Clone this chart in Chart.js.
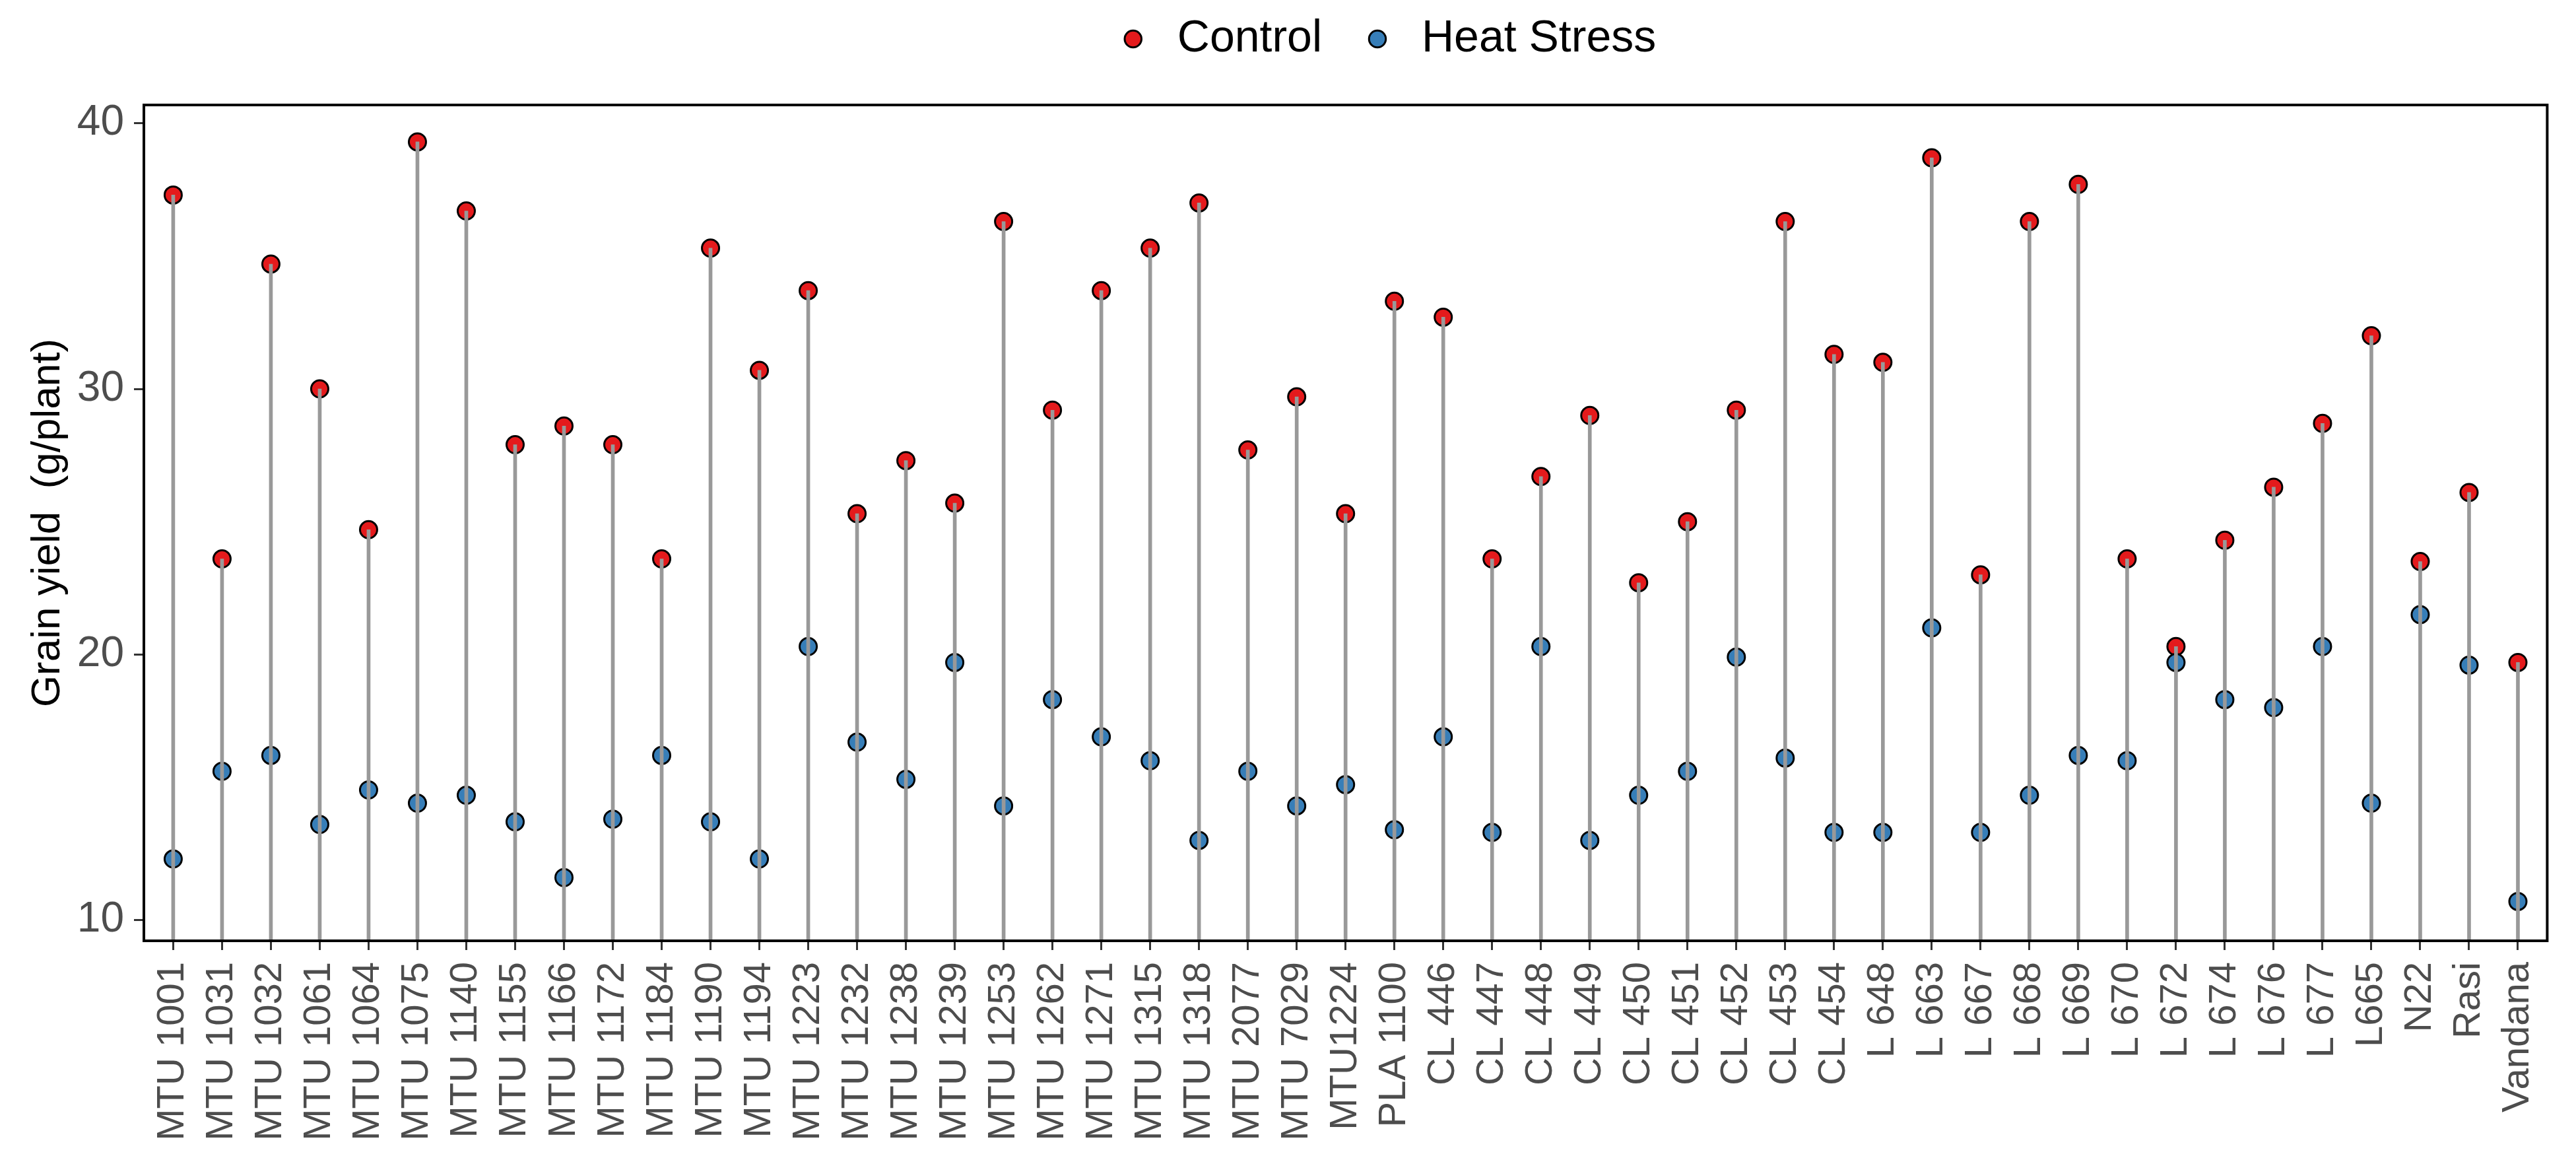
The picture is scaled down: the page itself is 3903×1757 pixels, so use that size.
<!DOCTYPE html>
<html>
<head>
<meta charset="utf-8">
<title>Grain yield</title>
<script src="https://cdn.jsdelivr.net/npm/chart.js@4.4.1/dist/chart.umd.min.js"></script>
<style>
    html, body { margin: 0; padding: 0; background: #ffffff; }
    #wrap { width: 3903px; height: 1757px; }
</style>
</head>
<body>
<div id="wrap"><canvas id="yieldChart" width="3903" height="1757"></canvas></div>
<script>
const genotypes = [
    "MTU 1001", "MTU 1031", "MTU 1032", "MTU 1061", "MTU 1064", "MTU 1075", "MTU 1140",
    "MTU 1155", "MTU 1166", "MTU 1172", "MTU 1184", "MTU 1190", "MTU 1194", "MTU 1223",
    "MTU 1232", "MTU 1238", "MTU 1239", "MTU 1253", "MTU 1262", "MTU 1271", "MTU 1315",
    "MTU 1318", "MTU 2077", "MTU 7029", "MTU1224", "PLA 1100", "CL 446", "CL 447",
    "CL 448", "CL 449", "CL 450", "CL 451", "CL 452", "CL 453", "CL 454", "L 648",
    "L 663", "L 667", "L 668", "L 669", "L 670", "L 672", "L 674", "L 676", "L 677",
    "L665", "N22", "Rasi", "Vandana",
];

// grain yield (g/plant)
const control = [
    37.3, 23.6, 34.7, 30.0, 24.7, 39.3, 36.7, 27.9, 28.6, 27.9, 23.6, 35.3, 30.7, 33.7,
    25.3, 27.3, 25.7, 36.3, 29.2, 33.7, 35.3, 37.0, 27.7, 29.7, 25.3, 33.3, 32.7, 23.6,
    26.7, 29.0, 22.7, 25.0, 29.2, 36.3, 31.3, 31.0, 38.7, 23.0, 36.3, 37.7, 23.6, 20.3,
    24.3, 26.3, 28.7, 32.0, 23.5, 26.1, 19.7,
];
const heatStress = [
    12.3, 15.6, 16.2, 13.6, 14.9, 14.4, 14.7, 13.7, 11.6, 13.8, 16.2, 13.7, 12.3, 20.3,
    16.7, 15.3, 19.7, 14.3, 18.3, 16.9, 16.0, 13.0, 15.6, 14.3, 15.1, 13.4, 16.9, 13.3,
    20.3, 13.0, 14.7, 15.6, 19.9, 16.1, 13.3, 13.3, 21.0, 13.3, 14.7, 16.2, 16.0, 19.7,
    18.3, 18.0, 20.3, 14.4, 21.5, 19.6, 10.7,
];

const yTicks = [10, 20, 30, 40];
const yMin = 9.22;
const yMax = 40.69;

const FONT = "'Liberation Sans', Arial, sans-serif";

const toPoints = (vals) => vals.map((v, i) => ({ x: i, y: v }));
const stemTops = control.map((c, i) => Math.max(c, heatStress[i]));

// black frame round the panel (theme_bw look)
const panelBorder = {
    id: "panelBorder",
    afterDatasetsDraw(chart) {
        const { ctx, chartArea: a } = chart;
        ctx.save();
        ctx.strokeStyle = "#000000";
        ctx.lineWidth = 4;
        ctx.strokeRect(a.left, a.top, a.right - a.left, a.bottom - a.top);
        ctx.restore();
    },
};

// legend sits a bit right of centre and closer to the top in the original
const legendNudge = {
    id: "legendNudge",
    afterLayout(chart) {
        const lg = chart.legend;
        lg.left += 162;
        lg.right += 162;
        lg.top -= 56;
        lg.bottom -= 56;
    },
};

document.addEventListener("DOMContentLoaded", function () {
    const ctx = document.getElementById("yieldChart");

    new Chart(ctx, {
        type: "line",
        data: {
            datasets: [
                {
                    type: "bar",
                    label: "stem",
                    data: toPoints(stemTops),
                    backgroundColor: "#999999",
                    barThickness: 5,
                    grouped: false,
                },
                {
                    type: "line",
                    label: "Heat Stress",
                    data: toPoints(heatStress),
                    showLine: false,
                    pointRadius: 13,
                    pointHoverRadius: 13,
                    pointBorderWidth: 3,
                    pointBackgroundColor: "#377EB8",
                    pointBorderColor: "#000000",
                },
                {
                    type: "line",
                    label: "Control",
                    data: toPoints(control),
                    showLine: false,
                    pointRadius: 13,
                    pointHoverRadius: 13,
                    pointBorderWidth: 3,
                    pointBackgroundColor: "#E41A1C",
                    pointBorderColor: "#000000",
                },
            ],
        },
        options: {
            responsive: false,
            devicePixelRatio: 1,
            animation: false,
            layout: { padding: { top: 30, right: 34, bottom: 0, left: 0 } },
            plugins: {
                legend: {
                    position: "top",
                    reverse: true,
                    labels: {
                        filter: (item) => item.text !== "stem",
                        usePointStyle: true,
                        pointStyle: "circle",
                        boxWidth: 66,
                        boxHeight: 18,
                        padding: 51,
                        color: "#000000",
                        font: { family: FONT, size: 68 },
                    },
                },
                tooltip: { enabled: false },
            },
            scales: {
                x: {
                    type: "linear",
                    offset: false,
                    min: -0.6,
                    max: genotypes.length - 1 + 0.6,
                    afterBuildTicks: (axis) => {
                        axis.ticks = genotypes.map((g, i) => ({ value: i }));
                    },
                    afterFit: (axis) => {
                        axis.height = 332;
                    },
                    ticks: {
                        autoSkip: false,
                        minRotation: 90,
                        maxRotation: 90,
                        padding: 18,
                        color: "#4D4D4D",
                        font: { family: FONT, size: 58 },
                        callback: (value) => genotypes[value],
                    },
                    grid: {
                        offset: false,
                        drawOnChartArea: false,
                        drawTicks: true,
                        tickLength: 14,
                        color: "#333333",
                        lineWidth: 3,
                    },
                    border: { display: false },
                },
                y: {
                    min: yMin,
                    max: yMax,
                    afterBuildTicks: (axis) => {
                        axis.ticks = yTicks.map((v) => ({ value: v }));
                    },
                    afterFit: (axis) => {
                        axis.width = 218;
                    },
                    ticks: {
                        padding: 15,
                        color: "#4D4D4D",
                        font: { family: FONT, size: 64 },
                    },
                    grid: {
                        drawOnChartArea: false,
                        drawTicks: true,
                        tickLength: 15,
                        color: "#333333",
                        lineWidth: 3,
                    },
                    border: { display: false },
                    title: {
                        display: true,
                        text: "Grain yield  (g/plant)",
                        color: "#000000",
                        font: { family: FONT, size: 62 },
                        padding: { top: 36, bottom: 0 },
                    },
                },
            },
        },
        plugins: [panelBorder, legendNudge],
    });
});
</script>
</body>
</html>
